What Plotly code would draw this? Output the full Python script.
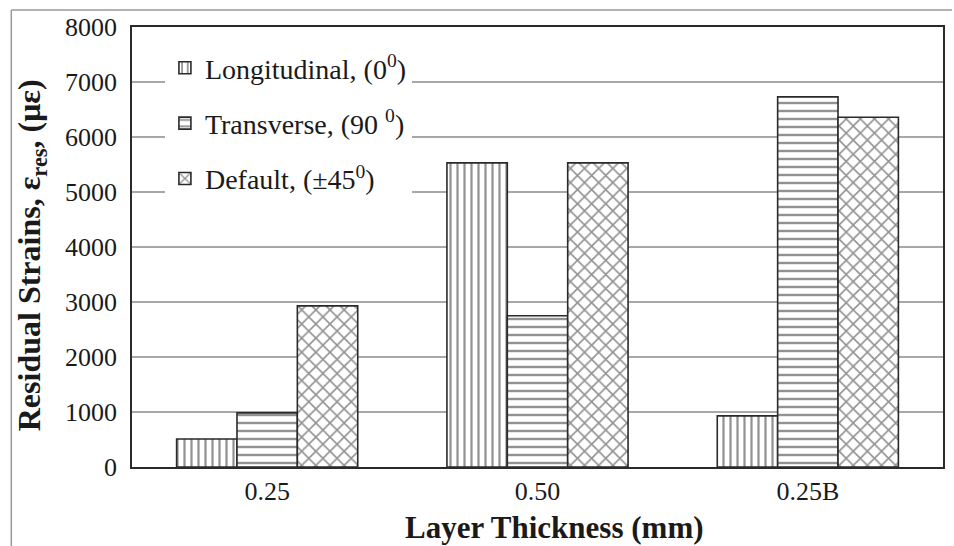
import plotly.graph_objects as go

# Layer thickness groups and residual strains (micro-strain) per fibre direction
categories = ["0.25", "0.50", "0.25B"]
longitudinal = [510, 5530, 930]
transverse = [985, 2750, 6730]
default_45 = [2930, 5530, 6360]

series_names = [
    "Longitudinal, (0<sup>0</sup>)",
    "Transverse, (90 <sup>0</sup>)",
    "Default, (±45<sup>0</sup>)",
]
series_values = [longitudinal, transverse, default_45]
patterns = ["|", "-", "x"]
pattern_sizes = [7, 8, 10]
pattern_solidity = [0.32, 0.3, 0.3]

x_title = "<b>Layer Thickness (mm)</b>"
y_title = "<b>Residual Strains, ε<sub>res</sub>, (με)</b>"

FONT = "Liberation Serif"

fig = go.Figure()
for i, (name, vals) in enumerate(zip(series_names, series_values)):
    fig.add_trace(go.Bar(
        x=categories,
        y=vals,
        name=name,
        legendgroup=f"g{i}",
        marker=dict(
            color="white",
            line=dict(color="#2a2a2a", width=1.6),
            pattern=dict(shape=patterns[i], fgcolor="#262626", bgcolor="white",
                         size=pattern_sizes[i], solidity=pattern_solidity[i]),
        ),
    ))

# pixel -> paper helpers for the fixed-size figure
L, R, T, B = 132, 9, 27, 79
W, H = 954, 546
pw, ph = W - L - R, H - T - B
def px_x(x):
    return (x - L) / pw
def px_y(y):
    return (H - B - y) / ph

# outer frame lines along the top and left of the figure
fig.add_shape(type="line", xref="paper", yref="paper",
              x0=px_x(11), x1=px_x(954), y0=px_y(10), y1=px_y(10),
              line=dict(color="#9a9a9a", width=1.5))
fig.add_shape(type="line", xref="paper", yref="paper",
              x0=px_x(11), x1=px_x(11), y0=px_y(10), y1=px_y(546),
              line=dict(color="#9a9a9a", width=1.5))

# axis titles
fig.add_annotation(text=x_title, xref="paper", yref="paper",
                   x=px_x(556), y=px_y(527), showarrow=False,
                   xanchor="center", yanchor="middle",
                   font=dict(family=FONT, size=31, color="#1a1a1a"))
fig.add_annotation(text=y_title, xref="paper", yref="paper",
                   x=px_x(31), y=px_y(255), showarrow=False, textangle=-90,
                   xanchor="center", yanchor="middle",
                   font=dict(family=FONT, size=32, color="#1a1a1a"))

fig.update_layout(
    width=W, height=H,
    margin=dict(l=L, r=R, t=T, b=B),
    paper_bgcolor="white",
    plot_bgcolor="white",
    barmode="group",
    bargap=0.33,
    bargroupgap=0,
    font=dict(family=FONT, color="#1a1a1a", size=26),
    showlegend=True,
    legend=dict(
        x=px_x(165), y=px_y(43), xanchor="left", yanchor="top",
        bgcolor="white", borderwidth=0,
        font=dict(family=FONT, size=28, color="#1a1a1a"),
        tracegroupgap=16,
        itemwidth=30,
    ),
    xaxis=dict(
        range=[-0.5, 2.5],
        showline=True, mirror=True, linecolor="#2a2a2a", linewidth=1.5,
        ticks="", showgrid=False,
        tickfont=dict(family=FONT, size=26),
    ),
    yaxis=dict(
        range=[0, 8000],
        tickvals=list(range(0, 8001, 1000)),
        showline=True, mirror=True, linecolor="#2a2a2a", linewidth=1.5,
        ticks="", showgrid=True, gridcolor="#a8a8a8", gridwidth=1.5,
        zeroline=False,
        ticklabelstandoff=8,
        tickfont=dict(family=FONT, size=26),
    ),
)

fig.write_html("out.html")
